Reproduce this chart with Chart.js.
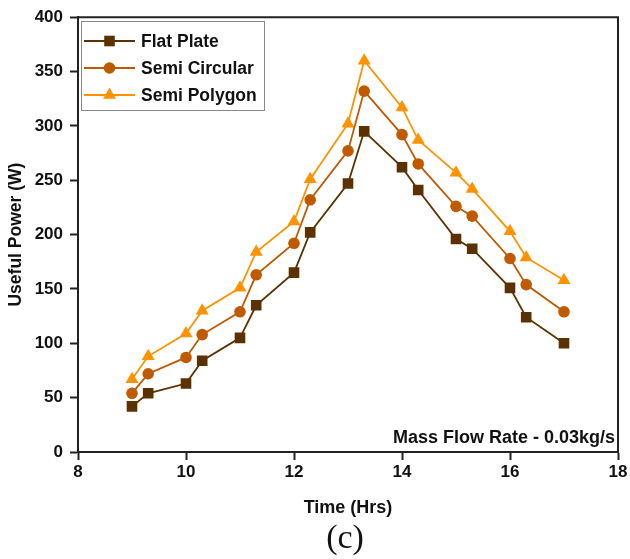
<!DOCTYPE html>
<html>
<head>
<meta charset="utf-8">
<script src="https://cdn.jsdelivr.net/npm/chart.js@4"></script>
<style>
  html, body { margin: 0; padding: 0; background: #fff; }
  #wrap { width: 630px; height: 559px; position: relative; }
</style>
</head>
<body>
<div id="wrap"><canvas id="c" width="630" height="559"></canvas></div>
<script>
const timeHrs = [9, 9.3, 10, 10.3, 11, 11.3, 12, 12.3, 13, 13.3, 14, 14.3, 15, 15.3, 16, 16.3, 17];
const flatPlate = [42, 54, 63, 84, 105, 135, 165, 202, 247, 295, 262, 241, 196, 187, 151, 124, 100];
const semiCircular = [54, 72, 87, 108, 129, 163, 192, 232, 277, 332, 292, 265, 226, 217, 178, 154, 129];
const semiPolygon = [67, 88, 109, 130, 151, 184, 212, 251, 302, 360, 317, 287, 257, 242, 203, 179, 158];
const xTicks = [8, 10, 12, 14, 16, 18];
const yTicks = [0, 50, 100, 150, 200, 250, 300, 350, 400];
const seriesNames = ['Flat Plate', 'Semi Circular', 'Semi Polygon'];
const annotationText = 'Mass Flow Rate - 0.03kg/s';
const captionText = '(c)';

const colors = ['#5C3100', '#C05A00', '#FF9200'];
const styles = ['rect', 'circle', 'triangle'];
const radii = [7.5, 5.8, 7.5];
const seriesValues = [flatPlate, semiCircular, semiPolygon];
const FONT = '"Liberation Sans", Arial, sans-serif';

const datasets = seriesNames.map((name, i) => ({
  label: name,
  data: timeHrs.map((t, j) => ({ x: t, y: seriesValues[i][j] })),
  borderColor: colors[i],
  backgroundColor: colors[i],
  pointBackgroundColor: colors[i],
  pointBorderColor: colors[i],
  pointStyle: styles[i],
  pointRadius: radii[i],
  pointBorderWidth: 0,
  borderWidth: 1.8,
  tension: 0,
  fill: false
}));

const framePlugin = {
  id: 'frame',
  afterDatasetsDraw(chart) {
    const { ctx, chartArea: a } = chart;
    ctx.save();
    ctx.strokeStyle = '#222';
    ctx.lineWidth = 2;
    ctx.beginPath();
    ctx.moveTo(a.left, a.top);
    ctx.lineTo(a.right, a.top);
    ctx.lineTo(a.right, a.bottom);
    ctx.stroke();

    // annotation
    ctx.fillStyle = '#111';
    ctx.font = 'bold 18px ' + FONT;
    ctx.textAlign = 'right';
    ctx.textBaseline = 'middle';
    ctx.fillText(annotationText, a.right - 3, a.bottom - 14);

    // legend box
    const lx = 81, ly = 21, lw = 183, lh = 89;
    ctx.strokeStyle = '#888';
    ctx.lineWidth = 1;
    ctx.strokeRect(lx + 0.5, ly + 0.5, lw, lh);
    const rows = [41, 68, 95];
    chart.data.datasets.forEach((ds, i) => {
      const y = rows[i];
      ctx.strokeStyle = ds.borderColor;
      ctx.lineWidth = 1.8;
      ctx.beginPath();
      ctx.moveTo(84, y);
      ctx.lineTo(135, y);
      ctx.stroke();
      ctx.fillStyle = ds.backgroundColor;
      Chart.helpers.drawPoint(ctx, { pointStyle: ds.pointStyle, radius: ds.pointRadius, rotation: 0, borderWidth: 0 }, 109.5, y);
      ctx.fillStyle = '#111';
      ctx.font = 'bold 17.5px ' + FONT;
      ctx.textAlign = 'left';
      ctx.textBaseline = 'middle';
      ctx.fillText(ds.label, 141, y + 1);
    });

    // caption
    ctx.fillStyle = '#111';
    ctx.font = '34px "Liberation Serif", "Times New Roman", serif';
    ctx.textAlign = 'center';
    ctx.textBaseline = 'middle';
    ctx.fillText(captionText, 345, 539);
    ctx.restore();
  }
};

new Chart(document.getElementById('c'), {
  type: 'line',
  data: { datasets },
  plugins: [framePlugin],
  options: {
    responsive: false,
    animation: false,
    devicePixelRatio: 1,
    layout: { padding: { left: 0, right: 12, top: 17, bottom: 0 } },
    plugins: { legend: { display: false }, tooltip: { enabled: false } },
    scales: {
      x: {
        type: 'linear',
        min: 8, max: 18,
        afterBuildTicks(scale) { scale.ticks = xTicks.map(v => ({ value: v })); },
        afterFit(scale) { scale.height = 107; },
        grid: { drawOnChartArea: false, drawTicks: true, tickLength: 8, color: '#222', tickWidth: 2 },
        border: { display: true, color: '#222', width: 2 },
        ticks: {
          color: '#111', padding: 2,
          font: { family: FONT, size: 17, weight: 'bold' },
          maxRotation: 0
        },
        title: {
          display: true, text: 'Time (Hrs)', color: '#111',
          font: { family: FONT, size: 18, weight: 'bold' },
          padding: { top: 0, bottom: 40 }
        }
      },
      y: {
        min: 0, max: 400,
        afterBuildTicks(scale) { scale.ticks = yTicks.map(v => ({ value: v })); },
        afterFit(scale) { scale.width = 78; },
        grid: { drawOnChartArea: false, drawTicks: true, tickLength: 8, color: '#222', tickWidth: 2 },
        border: { display: true, color: '#222', width: 2 },
        ticks: {
          color: '#111', padding: 7,
          font: { family: FONT, size: 17, weight: 'bold' }
        },
        title: {
          display: true, text: 'Useful Power (W)', color: '#111',
          font: { family: FONT, size: 17.5, weight: 'bold' },
          padding: { top: 6, bottom: 0 }
        }
      }
    }
  }
});
</script>
</body>
</html>
